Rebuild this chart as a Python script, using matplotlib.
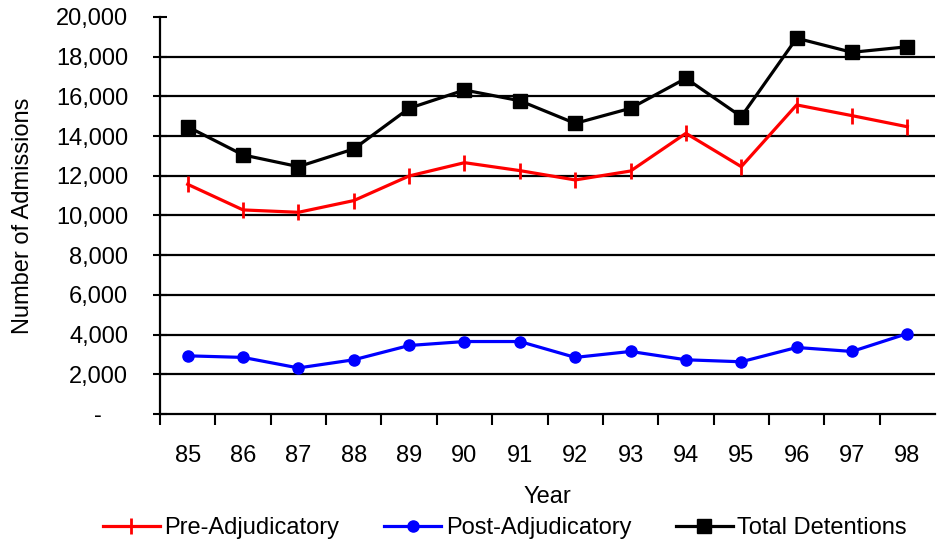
import numpy as np
import matplotlib.pyplot as plt
from matplotlib.ticker import FuncFormatter, FixedLocator

# ============================================================
# DATA
# ============================================================

years = ["85", "86", "87", "88", "89", "90", "91", "92", "93", "94", "95", "96", "97", "98"]

pre_adjudicatory = [11570, 10280, 10160, 10750, 11990, 12660, 12260,
                    11790, 12240, 14140, 12460, 15570, 15030, 14470]
post_adjudicatory = [2930, 2850, 2320, 2730, 3450, 3650, 3650,
                     2850, 3150, 2730, 2630, 3350, 3150, 4050]
total_detentions = [14470, 13050, 12460, 13350, 15400, 16320, 15780,
                    14640, 15400, 16910, 14980, 18930, 18220, 18500]

# ============================================================
# PLOT
# ============================================================

plt.rcParams["font.family"] = ["Liberation Sans", "DejaVu Sans"]
plt.rcParams["font.size"] = 17

fig = plt.figure(figsize=(9.44, 5.44), dpi=100)
ax = fig.add_axes([0.1695, 0.239, 0.821, 0.7298])

x = np.arange(len(years)) + 0.5

ax.plot(x, pre_adjudicatory, color="#ff0000", linewidth=2.3,
        marker="|", markersize=11, markeredgewidth=2, label="Pre-Adjudicatory")
ax.plot(x, post_adjudicatory, color="#0000ff", linewidth=2.3,
        marker="o", markersize=8, label="Post-Adjudicatory")
ax.plot(x, total_detentions, color="black", linewidth=2.3,
        marker="s", markersize=9.5, label="Total Detentions")

ax.set_xlim(0, len(years))
ax.set_ylim(0, 20000)

# category labels at centres, ticks at boundaries
ax.set_xticks(x)
ax.set_xticklabels(years)
ax.tick_params(axis="x", which="major", length=0, pad=22)
ax.xaxis.set_minor_locator(FixedLocator(np.arange(0, len(years))))
ax.tick_params(axis="x", which="minor", length=8, width=1.5, direction="out")

ax.set_yticks(np.arange(0, 20001, 2000))
ax.yaxis.set_major_formatter(
    FuncFormatter(lambda v, p: "-    " if v == 0 else f"{int(v):,}"))
ax.tick_params(axis="y", length=10, width=1.5, direction="inout", pad=18)

ax.grid(axis="y", color="black", linewidth=1.6)
ax.yaxis.get_gridlines()[-1].set_visible(False)
ax.yaxis.get_gridlines()[0].set_visible(False)

for side in ["top", "right"]:
    ax.spines[side].set_visible(False)
for side in ["left", "bottom"]:
    ax.spines[side].set_linewidth(1.6)

ax.set_xlabel("Year", labelpad=14)
ax.set_ylabel("Number of Admissions", labelpad=16)

fig.legend(loc="lower center", bbox_to_anchor=(0.535, -0.03), ncol=3,
           frameon=False, handlelength=2.4, columnspacing=1.9,
           handletextpad=0.2)

plt.savefig("out.png", dpi=100)
